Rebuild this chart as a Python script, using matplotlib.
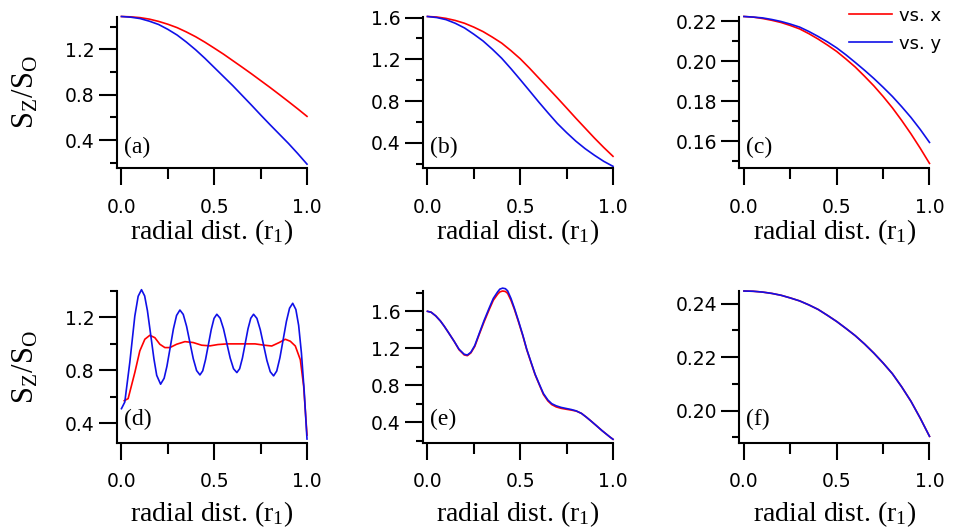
import numpy as np
import matplotlib
matplotlib.use("Agg")
import matplotlib.pyplot as plt
from matplotlib.ticker import MultipleLocator, FormatStrFormatter

plt.rcParams['font.family'] = ['DejaVu Sans']
plt.rcParams['mathtext.fontset'] = 'stix'

# values
x21 = [0.0, 0.05, 0.1, 0.15, 0.2, 0.25, 0.3, 0.35, 0.4, 0.45, 0.5,
       0.55, 0.6, 0.65, 0.7, 0.75, 0.8, 0.85, 0.9, 0.95, 1.0]

a_red = [1.488, 1.485, 1.478, 1.465, 1.445, 1.42, 1.39, 1.352, 1.31, 1.262, 1.21,
         1.157, 1.10, 1.043, 0.985, 0.925, 0.865, 0.803, 0.74, 0.676, 0.61]
a_blue = [1.488, 1.482, 1.47, 1.447, 1.418, 1.375, 1.325, 1.263, 1.195, 1.12, 1.04,
          0.96, 0.88, 0.795, 0.71, 0.623, 0.538, 0.455, 0.372, 0.283, 0.19]

b_red = [1.61, 1.605, 1.592, 1.572, 1.545, 1.508, 1.465, 1.412, 1.355, 1.283, 1.205,
         1.115, 1.02, 0.925, 0.83, 0.733, 0.635, 0.54, 0.445, 0.355, 0.27]
b_blue = [1.61, 1.60, 1.58, 1.545, 1.50, 1.44, 1.375, 1.296, 1.21, 1.11, 1.005,
          0.898, 0.79, 0.686, 0.585, 0.497, 0.415, 0.343, 0.28, 0.222, 0.174]

c_red = [0.2225, 0.2222, 0.2215, 0.2206, 0.2195, 0.2180, 0.2163, 0.2139, 0.2112, 0.2082, 0.2050,
         0.2012, 0.1972, 0.1926, 0.1878, 0.1825, 0.1768, 0.1705, 0.1638, 0.1566, 0.149]
c_blue = [0.2225, 0.2222, 0.2218, 0.2210, 0.2200, 0.2187, 0.2172, 0.2150, 0.2125, 0.2098, 0.2068,
          0.2033, 0.1995, 0.1956, 0.1915, 0.1871, 0.1825, 0.1774, 0.1720, 0.1660, 0.1595]

d_red_x = [0.015, 0.036, 0.072, 0.099, 0.126, 0.153, 0.18, 0.207, 0.234, 0.261, 0.297,
           0.342, 0.387, 0.432, 0.477, 0.52, 0.57, 0.62, 0.67, 0.72, 0.77, 0.81, 0.85,
           0.883, 0.91, 0.937, 0.964, 0.982, 1.0]
d_red = [0.57, 0.586, 0.783, 0.947, 1.035, 1.065, 1.047, 0.997, 0.972, 0.972, 0.997,
         1.017, 1.01, 0.99, 0.985, 0.995, 1.0, 1.0, 1.0, 1.0, 0.99, 0.984, 1.01,
         1.035, 1.02, 0.984, 0.88, 0.68, 0.31]

d_blue_x = [0.0, 0.018, 0.045, 0.072, 0.09, 0.108, 0.125, 0.14, 0.16, 0.175, 0.19, 0.211,
            0.23, 0.245, 0.263, 0.28, 0.297, 0.315, 0.333, 0.351, 0.369, 0.387, 0.405,
            0.423, 0.438, 0.453, 0.4685, 0.484, 0.499, 0.514, 0.532, 0.55, 0.568, 0.586,
            0.604, 0.622, 0.637, 0.652, 0.667, 0.682, 0.697, 0.712, 0.73, 0.748, 0.766,
            0.784, 0.802, 0.82, 0.837, 0.854, 0.8715, 0.889, 0.906, 0.923, 0.94, 0.955,
            0.97, 0.985, 1.0]
d_blue = [0.51, 0.56, 0.86, 1.21, 1.36, 1.41, 1.363, 1.251, 1.044, 0.887, 0.762, 0.695,
          0.74, 0.83, 0.975, 1.113, 1.215, 1.256, 1.223, 1.133, 1.01, 0.888, 0.798,
          0.765, 0.796, 0.88, 0.994, 1.109, 1.193, 1.224, 1.194, 1.114, 1.003, 0.893,
          0.812, 0.783, 0.812, 0.893, 1.003, 1.114, 1.194, 1.224, 1.193, 1.108, 0.991,
          0.874, 0.789, 0.758, 0.795, 0.895, 1.032, 1.17, 1.27, 1.307, 1.26, 1.14,
          0.93, 0.64, 0.28]

e_x = [0.0, 0.02, 0.045, 0.07, 0.09, 0.11, 0.144, 0.17, 0.198, 0.215, 0.234, 0.255,
       0.279, 0.305, 0.333, 0.355, 0.378, 0.39, 0.405, 0.42, 0.432, 0.45, 0.468, 0.49,
       0.514, 0.535, 0.559, 0.58, 0.604, 0.625, 0.649, 0.67, 0.694, 0.72, 0.748, 0.775,
       0.802, 0.83, 0.856, 0.88, 0.91, 0.94, 0.964, 0.985, 1.0]
e_blue = [1.6, 1.59, 1.55, 1.495, 1.44, 1.38, 1.275, 1.19, 1.135, 1.127, 1.157, 1.23,
          1.36, 1.50, 1.637, 1.74, 1.81, 1.84, 1.851, 1.845, 1.822, 1.74, 1.637, 1.50,
          1.342, 1.19, 1.046, 0.92, 0.806, 0.71, 0.64, 0.60, 0.577, 0.56, 0.548, 0.537,
          0.522, 0.495, 0.455, 0.415, 0.363, 0.31, 0.271, 0.237, 0.215]
e_red = [1.6, 1.59, 1.55, 1.495, 1.44, 1.38, 1.275, 1.185, 1.128, 1.12, 1.15, 1.22,
         1.35, 1.485, 1.62, 1.72, 1.785, 1.81, 1.82, 1.815, 1.795, 1.72, 1.625, 1.49,
         1.335, 1.185, 1.04, 0.915, 0.80, 0.70, 0.63, 0.59, 0.565, 0.55, 0.54, 0.531,
         0.52, 0.495, 0.455, 0.415, 0.363, 0.31, 0.271, 0.237, 0.215]

f_red = [0.2447, 0.2446, 0.2443, 0.2438, 0.2431, 0.2421, 0.2410, 0.2395, 0.2378, 0.2356, 0.2333,
         0.2307, 0.2280, 0.2249, 0.2215, 0.2178, 0.2138, 0.2089, 0.2035, 0.1972, 0.1904]
f_blue = [0.2447, 0.2446, 0.2443, 0.2438, 0.2431, 0.2421, 0.2410, 0.2395, 0.2378, 0.2356, 0.2333,
          0.2307, 0.2280, 0.2249, 0.2215, 0.2178, 0.2138, 0.2089, 0.2035, 0.1972, 0.1904]

panels = [
    # letter, x red, red, x blue, blue, ylim, major, minor
    ('(a)', x21, a_red, x21, a_blue, (0.156, 1.488), 0.4, 0.2),
    ('(b)', x21, b_red, x21, b_blue, (0.158, 1.61), 0.4, 0.2),
    ('(c)', x21, c_red, x21, c_blue, (0.1467, 0.2225), 0.02, 0.01),
    ('(d)', d_red_x, d_red, d_blue_x, d_blue, (0.254, 1.40), 0.4, 0.2),
    ('(e)', e_x, e_red, e_x, e_blue, (0.18, 1.82), 0.4, 0.2),
    ('(f)', x21, f_red, x21, f_blue, (0.1881, 0.2447), 0.02, 0.01),
]

W, H = 954.0, 531.0
col_left = [117, 423, 739.5]
row_top = [16.5, 291]
ax_w, ax_h = 190, 151.5

serif = ['Liberation Serif', 'DejaVu Serif']
ylab = r'S$_\mathregular{Z}$/S$_\mathregular{O}$'
xlab = r'radial dist. (r$_\mathregular{1}$)'

fig = plt.figure(figsize=(9.54, 5.31), dpi=100)

for i, (letter, xr, yr, xb, yb, ylim, major, minor) in enumerate(panels):
    row, col = divmod(i, 3)
    ax = fig.add_axes([col_left[col] / W, 1 - (row_top[row] + ax_h) / H, ax_w / W, ax_h / H])
    ax.plot(xr, yr, color='#ff0000', lw=1.2, label='vs. x', clip_on=False)
    ax.plot(xb, yb, color='#1010e8', lw=1.2, label='vs. y', clip_on=False)
    ax.set_xlim(-0.024, 1.0)
    ax.set_ylim(*ylim)

    for s in ['top', 'right']:
        ax.spines[s].set_visible(False)
    for s in ['left', 'bottom']:
        ax.spines[s].set_linewidth(1.5)

    ax.xaxis.set_major_locator(MultipleLocator(0.5))
    ax.xaxis.set_minor_locator(MultipleLocator(0.25))
    ax.yaxis.set_major_locator(MultipleLocator(major))
    ax.yaxis.set_minor_locator(MultipleLocator(minor))
    ax.xaxis.set_major_formatter(FormatStrFormatter('%.1f'))
    ax.yaxis.set_major_formatter(FormatStrFormatter('%.2f' if major < 0.1 else '%.1f'))

    ax.tick_params(axis='x', which='major', direction='out', length=12, width=1.5,
                   labelsize=13.5, pad=9.5)
    ax.tick_params(axis='x', which='minor', direction='out', length=8, width=1.5)
    ax.tick_params(axis='y', which='major', direction='out', length=13, width=1.5,
                   labelsize=13.5, pad=3)
    ax.tick_params(axis='y', which='minor', direction='out', length=5, width=1.5)

    ax.set_xlabel(xlab, family=serif, fontsize=20)
    ax.xaxis.set_label_coords(0.5, -0.325 if row == 0 else -0.375)
    if col == 0:
        ax.set_ylabel(ylab, family=serif, fontsize=22)
        ax.yaxis.set_label_coords(-0.40, 0.5)

    ax.text(0.035, 0.065 if row == 0 else 0.08, letter, transform=ax.transAxes,
            family=serif, fontsize=17, ha='left', va='bottom')

    if letter == '(c)':
        ax.legend(loc='upper left', bbox_to_anchor=(0.575, 1.065), frameon=False,
                  fontsize=13, handlelength=2.4, handletextpad=0.4,
                  labelspacing=0.55, borderpad=0, borderaxespad=0)

fig.savefig('out.png', dpi=100)
